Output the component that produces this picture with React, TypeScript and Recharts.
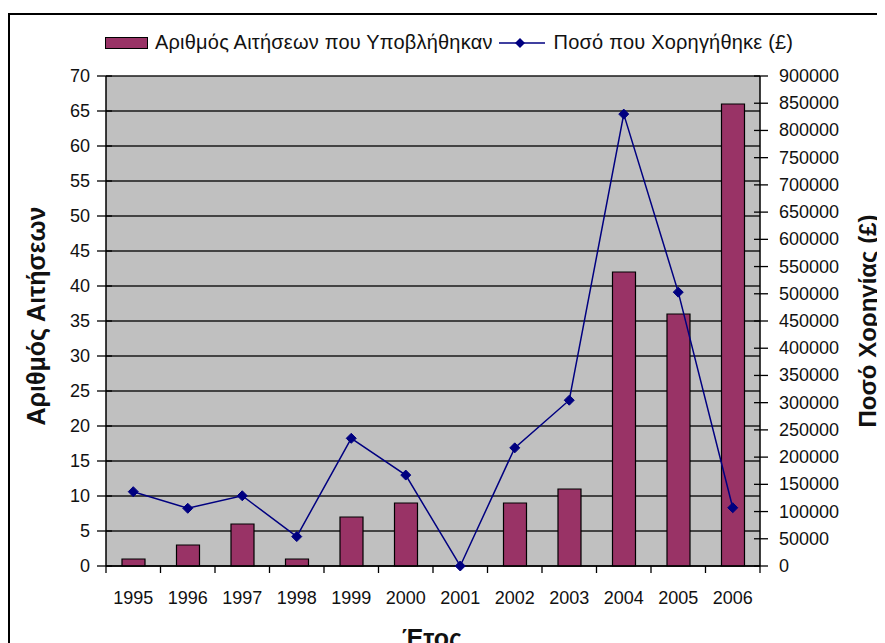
import React from 'react';
import { ComposedChart, Bar, Line, XAxis, YAxis, CartesianGrid } from 'recharts';

const years = ['1995', '1996', '1997', '1998', '1999', '2000', '2001', '2002', '2003', '2004', '2005', '2006'];
const applications = [1, 3, 6, 1, 7, 9, 0, 9, 11, 42, 36, 66];
const granted = [136500, 106000, 129000, 54000, 234500, 167000, 0, 217000, 304500, 830000, 503000, 107000];
const leftTicks = [0, 5, 10, 15, 20, 25, 30, 35, 40, 45, 50, 55, 60, 65, 70];
const rightTicks = [
  0, 50000, 100000, 150000, 200000, 250000, 300000, 350000, 400000, 450000,
  500000, 550000, 600000, 650000, 700000, 750000, 800000, 850000, 900000,
];

const data = years.map((y, i) => ({ year: y, apps: applications[i], amount: granted[i] }));

const FONT = '"Liberation Sans", Arial, sans-serif';
const PLUM = '#993366';
const NAVY = '#000080';
const HALF_BAND = 654 / years.length / 2;

const LeftTick = (props: any) => {
  const { x, y, payload } = props;
  return (
    <g>
      <line x1={x - 9} x2={x + 6} y1={y} y2={y} stroke="#000" strokeWidth={1.3} />
      <text x={x - 16} y={y} textAnchor="end" dominantBaseline="central" fontSize={18} fill="#111" fontFamily={FONT}>
        {payload.value}
      </text>
    </g>
  );
};

const RightTick = (props: any) => {
  const { x, y, payload } = props;
  return (
    <g>
      <line x1={x - 6} x2={x + 8} y1={y} y2={y} stroke="#000" strokeWidth={1.3} />
      <text x={x + 19} y={y} textAnchor="start" dominantBaseline="central" fontSize={18} fill="#111" fontFamily={FONT}>
        {payload.value}
      </text>
    </g>
  );
};

const BottomTick = (props: any) => {
  const { x, y, payload, index } = props;
  return (
    <g>
      <line x1={x - HALF_BAND} x2={x - HALF_BAND} y1={y} y2={y + 7} stroke="#000" strokeWidth={1.3} />
      {index === years.length - 1 && (
        <line x1={x + HALF_BAND} x2={x + HALF_BAND} y1={y} y2={y + 7} stroke="#000" strokeWidth={1.3} />
      )}
      <text x={x} y={y + 32} textAnchor="middle" dominantBaseline="central" fontSize={18} fill="#111" fontFamily={FONT}>
        {payload.value}
      </text>
    </g>
  );
};

const Diamond = (props: any) => {
  const { cx, cy, index } = props;
  if (cx == null || cy == null) return null;
  const r = 5;
  return (
    <path
      key={index}
      d={`M${cx},${cy - r} L${cx + r},${cy} L${cx},${cy + r} L${cx - r},${cy} Z`}
      fill={NAVY}
      stroke={NAVY}
    />
  );
};

const rotated = (left: number, top: number, size: number): React.CSSProperties => ({
  position: 'absolute',
  left,
  top,
  width: 'max-content',
  lineHeight: 1,
  transform: 'translate(-50%, -50%) rotate(-90deg)',
  whiteSpace: 'nowrap',
  fontWeight: 'bold',
  fontSize: size,
  fontFamily: FONT,
  color: '#111',
});

export default function App() {
  return (
    <div
      style={{
        marginTop: 5,
        position: 'relative',
        width: 875,
        height: 628,
        borderTop: '2px solid #000',
        borderLeft: '2px solid #000',
        background: '#fff',
        overflow: 'hidden',
      }}
    >
      {/* legend */}
      <div
        style={{
          position: 'absolute',
          left: 95,
          top: 16,
          display: 'flex',
          alignItems: 'center',
          fontFamily: FONT,
          fontSize: 20,
          letterSpacing: 0.2,
          color: '#111',
          whiteSpace: 'nowrap',
        }}
      >
        <span style={{ display: 'inline-block', width: 41, height: 10, background: PLUM, border: '1px solid #000', marginRight: 7 }} />
        <span>Αριθμός Αιτήσεων που Υποβλήθηκαν</span>
        <svg width={52} height={12} style={{ margin: '0 3px 0 6px' }}>
          <line x1={0} x2={46} y1={6} y2={6} stroke={NAVY} strokeWidth={1.5} />
          <path d="M21,1 L26,6 L21,11 L16,6 Z" fill={NAVY} />
        </svg>
        <span>Ποσό που Χορηγήθηκε (£)</span>
      </div>

      <div style={rotated(26, 301, 25)}>Αριθμός Αιτήσεων</div>
      <div style={rotated(858, 306, 24)}>Ποσό Χορηγίας (£)</div>
      <div
        style={{
          position: 'absolute',
          left: 422,
          top: 609,
          transform: 'translateX(-50%)',
          fontWeight: 'bold',
          fontSize: 25,
          fontFamily: FONT,
          color: '#111',
        }}
      >
        Έτος
      </div>

      <ComposedChart
        width={875}
        height={628}
        data={data}
        margin={{ top: 61, right: 0, bottom: 0, left: 0 }}
      >
        <CartesianGrid
          yAxisId="left"
          vertical={false}
          fill="#c0c0c0"
          fillOpacity={1}
          stroke="#1a1a1a"
          strokeWidth={1.5}
        />
        <XAxis
          dataKey="year"
          height={77}
          tickSize={0}
          tickMargin={0}
          tickLine={false}
          axisLine={{ stroke: '#000', strokeWidth: 1.5 }}
          tick={<BottomTick />}
          interval={0}
        />
        <YAxis
          yAxisId="left"
          orientation="left"
          width={96}
          domain={[0, 70]}
          ticks={leftTicks}
          interval={0}
          tickSize={0}
          tickMargin={0}
          tickLine={false}
          axisLine={{ stroke: '#000', strokeWidth: 1.5 }}
          tick={<LeftTick />}
        />
        <YAxis
          yAxisId="right"
          orientation="right"
          width={125}
          domain={[0, 900000]}
          ticks={rightTicks}
          interval={0}
          tickSize={0}
          tickMargin={0}
          tickLine={false}
          axisLine={{ stroke: '#000', strokeWidth: 1.5 }}
          tick={<RightTick />}
        />
        <Bar
          yAxisId="left"
          dataKey="apps"
          fill={PLUM}
          stroke="#000"
          strokeWidth={1.2}
          barSize={23}
          isAnimationActive={false}
        />
        <Line
          yAxisId="right"
          dataKey="amount"
          type="linear"
          stroke={NAVY}
          strokeWidth={1.5}
          dot={<Diamond />}
          activeDot={false}
          isAnimationActive={false}
        />
      </ComposedChart>
    </div>
  );
}
